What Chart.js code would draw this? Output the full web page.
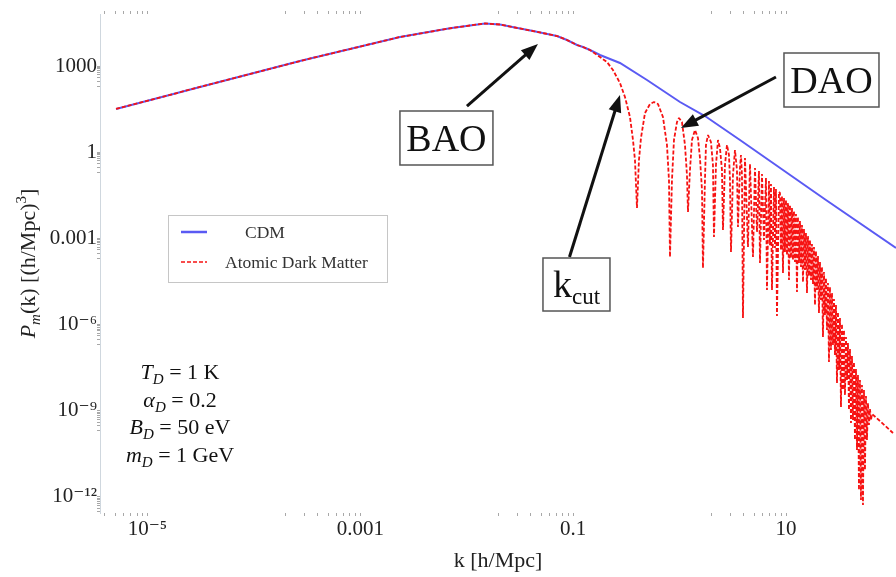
<!DOCTYPE html>
<html><head><meta charset="utf-8">
<script src="https://cdn.jsdelivr.net/npm/chart.js@4.4.1/dist/chart.umd.min.js"></script>
<style>html,body{margin:0;padding:0;background:#fff;}#wrap{width:896px;height:577px;}</style>
</head><body><div id="wrap"><canvas id="c" width="896" height="577"></canvas></div>
<script>
// ---------- data (k in h/Mpc, P in (Mpc/h)^3) ----------
const cdmK = [5.08e-6, 3.12e-5, 2.71e-4, 8.00e-4, 2.36e-3, 6.96e-3, 0.01073, 0.01484, 0.02052, 0.0284, 0.04191, 0.05433, 0.07043, 0.08744, 0.1086, 0.1236, 0.1438,
  0.1786, 0.2752, 0.4935, 1.008, 1.730, 3.689, 23.70, 107.8];
const cdmP = [31.9, 186, 1493, 3906, 10220, 20520, 25690, 30160, 27830, 21880, 16530, 13530, 11070, 8035, 5381, 4585, 3605,
  2415, 1272, 325.6, 55.85, 18.18, 2.657, 0.0217, 4.63e-4];

const admK = [5.08e-6, 3.12e-5, 2.71e-4, 8.00e-4, 2.36e-3, 6.96e-3, 0.01073, 0.01484, 0.02052, 0.0284, 0.04191, 0.05433, 0.07043, 0.08744, 0.1086, 0.1236, 0.1438,
  0.1786, 0.2077, 0.2365, 0.2752, 0.3066, 0.3417, 0.3646, 0.3807, 0.3975, 0.4150, 0.4335, 0.4726, 0.5266, 0.5742, 0.6260, 0.6975, 0.7606, 0.7943, 0.8118, 0.8475,
  0.8850, 0.9443, 0.9860, 1.052, 1.123, 1.172, 1.198, 1.251, 1.306, 1.394, 1.487, 1.553, 1.622, 1.657, 1.730, 1.768, 1.847, 1.970, 2.057, 2.102, 2.195, 2.293,
  2.393, 2.499, 2.554, 2.667, 2.785, 2.908, 2.972, 3.037, 3.171, 3.311, 3.457, 3.533, 3.689, 3.770, 3.852, 3.936, 4.111, 4.386, 4.580, 4.888, 5.103, 5.329,
  5.564, 5.686, 5.937, 6.200, 6.474, 6.615, 6.907, 7.059, 7.213, 7.371, 7.697, 7.866, 8.035, 8.211, 8.575,
  8.763, 8.955, 9.153, 9.353, 9.557, 9.766, 9.979, 10.20, 10.42, 10.65, 10.88, 11.12, 11.36, 11.61, 11.86, 12.12, 12.39, 12.66, 12.93, 13.22, 13.51, 13.80,
  14.11, 14.42, 14.73, 15.05, 15.38, 15.72, 16.06, 16.41, 16.77, 17.14, 17.51, 17.89, 18.29, 18.69, 19.09, 19.51, 19.94, 20.37, 20.82, 21.27, 21.74, 22.21,
  22.70, 23.20, 23.70, 24.22, 24.75, 25.29, 25.84, 26.41, 26.99, 27.58, 28.18, 28.80, 29.43, 30.07, 30.73, 31.40, 32.09, 32.79, 33.51, 34.24, 34.99, 35.75,
  36.54, 37.34, 38.15, 38.99, 39.84, 40.71, 41.59, 42.50, 43.43, 44.38, 45.35, 46.34, 47.36, 48.39, 49.45, 50.53, 51.64, 52.77, 53.92, 55.10, 56.30, 57.54,
  58.80, 60.08, 61.40, 62.76, 64.12, 76.23, 101.0];
const admP = [31.9, 186, 1493, 3906, 10220, 20520, 25690, 30160, 27830, 21880, 16530, 13530, 11070, 8035, 5381, 4585, 3605,
  2057, 1378, 726, 256, 83.4, 16.8, 2.66, 0.535, 0.0114, 0.535, 3.12, 23.1, 47.6, 55.8, 47.6, 16.8, 1.78, 0.108, 2.25e-4, 0.108,
  2.66, 11.2, 15.5, 11.2, 1.78, 0.161, 8.28e-3, 0.240, 2.66, 5.92, 3.12, 0.628, 0.0483, 9.31e-5, 0.108, 1.78, 3.97, 2.26, 0.358, 1.12e-3, 0.358, 2.66,
  1.40, 0.240, 1.96e-3, 0.358, 1.78, 0.799, 0.108, 3.36e-4, 0.161, 1.19, 0.240, 2.49e-3, 0.282, 0.799, 0.161, 1.69e-6, 0.628, 5.01e-4, 0.388, 2.25e-4, 0.282, 1.67e-3,
  0.221, 1.39e-4, 0.174, 8.78e-4, 0.126, 1.60e-5, 0.0994, 5.82e-4, 0.0781, 1.60e-5, 0.0614, 4.63e-4, 0.0523, 1.99e-6, 0.0411,
  3.80e-2, 3.94e-4, 2.99e-2, 6.24e-5, 2.54e-2, 3.36e-4, 2.17e-2, 2.64e-4, 1.70e-2, 3.56e-5, 1.45e-2, 2.07e-4, 1.14e-2, 1.77e-4, 8.97e-3, 1.51e-4, 7.06e-3, 1.36e-5, 5.55e-3, 1.39e-4, 4.03e-3, 1.01e-4,
  2.92e-3, 3.03e-5, 2.12e-3, 7.93e-5, 1.54e-3, 1.26e-5, 1.21e-3, 4.90e-5, 8.78e-4, 3.56e-5, 6.37e-4, 2.58e-5, 5.01e-4, 4.80e-6, 3.64e-4, 1.60e-5, 2.44e-4, 2.53e-6, 1.51e-4, 7.16e-6, 1.01e-4, 3.69e-7,
  6.75e-5, 2.15e-6, 4.18e-5, 6.47e-7, 2.80e-5, 4.98e-8, 2.03e-5, 1.30e-7, 1.26e-5, 1.94e-7, 7.76e-6, 8.72e-8, 4.80e-6, 9.25e-9, 2.74e-6, 2.62e-8, 1.69e-6, 1.35e-9, 1.05e-6, 5.28e-9, 6.47e-7, 3.54e-9,
  3.69e-7, 1.18e-8, 2.28e-7, 1.06e-9, 1.41e-7, 3.75e-10, 8.05e-8, 4.77e-10, 4.98e-8, 9.60e-11, 2.84e-8, 4.31e-11, 1.76e-8, 1.74e-12, 1.18e-8, 7.83e-13, 7.88e-9, 5.24e-13, 5.28e-9, 8.67e-12, 3.26e-9, 9.60e-11,
  1.86e-9, 3.19e-10, 1.15e-9, 4.77e-10, 7.71e-10, 4.40e-10, 1.68e-10];

const seriesNames = ['CDM', 'Atomic Dark Matter'];
const xMajorTicks = [1e-5, 1e-3, 0.1, 10];
const xTickLabels = ['10⁻⁵', '0.001', '0.1', '10'];
const yMajorTicks = [1e-12, 1e-9, 1e-6, 1e-3, 1, 1000];
const yTickLabels = ['10⁻¹²', '10⁻⁹', '10⁻⁶', '0.001', '1', '1000'];
const xRange = [3.59e-6, 107.8];
const yRange = [2.76e-13, 6.46e4];
const paramSymbols = ['T', 'α', 'B', 'm'];
const paramValues = [' = 1 K', ' = 0.2', ' = 50 eV', ' = 1 GeV'];
// annotation anchors in data coordinates [k, P]
const annotations = [
  {text: 'BAO', sub: '', box: [0.006449, 3.118], w: 93, h: 54, tail: [0.01005, 40.5], head: [0.0467, 5833]},
  {text: 'DAO', sub: '', box: [26.70, 325.6], w: 95, h: 54, tail: [8.035, 414.2], head: [1.0296, 6.95]},
  {text: 'k', sub: 'cut', box: [0.1074, 2.48e-5], w: 67, h: 53, tail: [0.09233, 2.25e-4], head: [0.2752, 97.9]}
];

// ---------- styling ----------
const SERIF = "'Liberation Serif', 'Times New Roman', 'DejaVu Serif', serif";
const BLUE = 'rgba(72,72,242,0.9)';
const RED = 'rgb(246,18,18)';

function tickList(majors, min, max) {
  const out = [];
  majors.forEach(m => {
    for (let j = 2; j <= 9; j++) out.push({value: j * m / 10, major: false});
    out.push({value: m, major: true});
  });
  return out.filter(t => t.value >= min && t.value <= max);
}
function labelFor(v, majors, labels) {
  const i = majors.findIndex(m => Math.abs(Math.log10(v) - Math.log10(m)) < 1e-6);
  return i >= 0 ? labels[i] : '';
}
const gridOpts = {display: true, drawOnChartArea: false, drawTicks: true, tickLength: 3, tickColor: '#a8a8a8', color: '#a8a8a8', lineWidth: 1};

function richWidth(ctx, segs) { let w = 0; segs.forEach(s => { ctx.font = s.font; w += ctx.measureText(s.t).width; }); return w; }
function drawRich(ctx, segs, x, y) { segs.forEach(s => { ctx.font = s.font; ctx.fillText(s.t, x, y + (s.dy || 0)); x += ctx.measureText(s.t).width; }); }

const overlay = {
  id: 'overlay',
  afterDraw(chart) {
    const ctx = chart.ctx, xs = chart.scales.x, ys = chart.scales.y;
    const px = v => xs.getPixelForValue(v), py = v => ys.getPixelForValue(v);
    const ds = chart.data.datasets;
    ctx.save();
    ctx.textAlign = 'left'; ctx.textBaseline = 'alphabetic';

    // legend
    ctx.fillStyle = '#fff'; ctx.strokeStyle = '#c6c6c6'; ctx.lineWidth = 1;
    ctx.fillRect(168.5, 215.5, 219, 67); ctx.strokeRect(168.5, 215.5, 219, 67);
    ctx.lineWidth = 2.5; ctx.strokeStyle = ds[1].borderColor; ctx.setLineDash([]);
    ctx.beginPath(); ctx.moveTo(181, 232); ctx.lineTo(207, 232); ctx.stroke();
    ctx.lineWidth = 1.6; ctx.strokeStyle = ds[0].borderColor; ctx.setLineDash(ds[0].borderDash);
    ctx.beginPath(); ctx.moveTo(181, 262); ctx.lineTo(207, 262); ctx.stroke();
    ctx.setLineDash([]);
    ctx.fillStyle = '#333'; ctx.font = '17.5px ' + SERIF;
    ctx.fillText(ds[1].label, 245, 238);
    ctx.fillText(ds[0].label, 225, 268);

    // parameters
    ctx.fillStyle = '#111';
    const IT22 = 'italic 22px ' + SERIF, IT15 = 'italic 15px ' + SERIF, RM22 = '22px ' + SERIF, RM15 = '15px ' + SERIF;
    paramSymbols.forEach((s, i) => {
      const segs = [{t: s, font: IT22}, {t: 'D', font: IT15, dy: 5}, {t: paramValues[i], font: RM22}];
      const w = richWidth(ctx, segs);
      drawRich(ctx, segs, 180 - w / 2, 379 + i * 27.7);
    });

    // annotations
    annotations.forEach(a => {
      const tx = px(a.tail[0]), ty = py(a.tail[1]), hx = px(a.head[0]), hy = py(a.head[1]);
      const ang = Math.atan2(hy - ty, hx - tx), L = 17, W = 6.5;
      const bx = hx - L * Math.cos(ang), by = hy - L * Math.sin(ang);
      ctx.strokeStyle = '#111'; ctx.lineWidth = 3;
      ctx.beginPath(); ctx.moveTo(tx, ty); ctx.lineTo(bx + 2 * Math.cos(ang), by + 2 * Math.sin(ang)); ctx.stroke();
      ctx.fillStyle = '#111';
      ctx.beginPath(); ctx.moveTo(hx, hy);
      ctx.lineTo(bx + W * Math.sin(ang), by - W * Math.cos(ang));
      ctx.lineTo(bx - W * Math.sin(ang), by + W * Math.cos(ang));
      ctx.closePath(); ctx.fill();
      const cx = px(a.box[0]), cy = py(a.box[1]);
      ctx.fillStyle = '#fff'; ctx.fillRect(cx - a.w / 2, cy - a.h / 2, a.w, a.h);
      ctx.strokeStyle = '#555'; ctx.lineWidth = 1.5; ctx.strokeRect(cx - a.w / 2, cy - a.h / 2, a.w, a.h);
      ctx.fillStyle = '#111';
      const segs = [{t: a.text, font: '38px ' + SERIF}];
      if (a.sub) segs.push({t: a.sub, font: '23px ' + SERIF, dy: 7});
      const w = richWidth(ctx, segs);
      drawRich(ctx, segs, cx - w / 2, cy + 12.5);
    });

    // y axis title
    ctx.fillStyle = '#222';
    ctx.translate(35, (chart.chartArea.top + chart.chartArea.bottom) / 2);
    ctx.rotate(-Math.PI / 2);
    const ysegs = [{t: 'P', font: IT22}, {t: 'm', font: IT15, dy: 5}, {t: '(k) [(h/Mpc)', font: RM22}, {t: '3', font: RM15, dy: -9}, {t: ']', font: RM22}];
    const yw = richWidth(ctx, ysegs);
    drawRich(ctx, ysegs, -yw / 2, 0);
    ctx.restore();
  }
};

new Chart(document.getElementById('c'), {
  type: 'scatter',
  data: {
    datasets: [
      {label: seriesNames[1], data: admK.map((k, i) => ({x: k, y: admP[i]})), showLine: true, borderColor: RED, borderWidth: 1.8,
       borderDash: [4, 2], borderJoinStyle: 'bevel', pointRadius: 0, tension: 0, fill: false, order: 0},
      {label: seriesNames[0], data: cdmK.map((k, i) => ({x: k, y: cdmP[i]})), showLine: true, borderColor: BLUE, borderWidth: 2,
       pointRadius: 0, tension: 0, fill: false, order: 1}
    ]
  },
  options: {
    responsive: false, maintainAspectRatio: false, animation: false, devicePixelRatio: 1, events: [],
    layout: {padding: {left: 0, right: 0, top: 0, bottom: 0}},
    plugins: {legend: {display: false}, tooltip: {enabled: false}},
    scales: {
      x: {type: 'logarithmic', position: 'bottom', min: xRange[0], max: xRange[1],
          afterFit: s => { s.height = 64; },
          afterBuildTicks: s => { s.ticks = tickList(xMajorTicks, s.min, s.max); },
          ticks: {autoSkip: false, maxRotation: 0, minRotation: 0, padding: 1, color: '#222', font: {family: SERIF, size: 21},
                  callback: v => labelFor(v, xMajorTicks, xTickLabels)},
          grid: gridOpts, border: {display: false},
          title: {display: true, text: 'k [h/Mpc]', color: '#222', font: {family: SERIF, size: 22}, padding: {top: 0, bottom: 3}}},
      x2: {type: 'logarithmic', position: 'top', min: xRange[0], max: xRange[1],
          afterFit: s => { s.height = 14; },
          afterBuildTicks: s => { s.ticks = tickList(xMajorTicks, s.min, s.max); },
          ticks: {display: false}, grid: gridOpts, border: {display: false}},
      y: {type: 'logarithmic', position: 'left', min: yRange[0], max: yRange[1],
          afterFit: s => { s.width = 100; },
          afterBuildTicks: s => { s.ticks = tickList(yMajorTicks, s.min, s.max); },
          ticks: {autoSkip: false, padding: 0, color: '#222', font: {family: SERIF, size: 21},
                  callback: v => labelFor(v, yMajorTicks, yTickLabels)},
          grid: gridOpts, border: {display: true, color: '#cfd7de', width: 1}}
    }
  },
  plugins: [overlay]
});
</script>
</body></html>
